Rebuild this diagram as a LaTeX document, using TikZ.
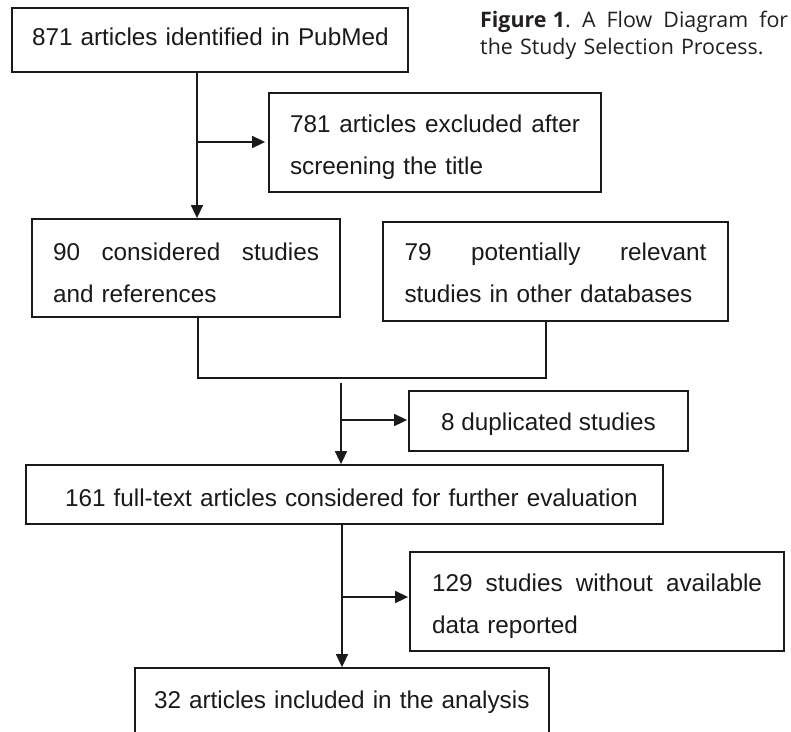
\documentclass[tikz,border=0pt]{standalone}
\usepackage{fontspec}
\setmainfont{Liberation Sans}
\newfontfamily\capfont{Open Sans}
\usetikzlibrary{arrows.meta}
\definecolor{ink}{HTML}{1A1A1A}
\definecolor{capink}{HTML}{231F20}
\newcommand\tsH[1]{\rule{0pt}{#1pt}}
\newcommand\tsD[1]{\rule[-#1pt]{0pt}{#1pt}}
\tikzset{
  boxnode/.style={draw=ink, line width=1.8pt, inner sep=0pt, text=ink, align=left,
    font=\fontsize{24.3}{42}\selectfont},
  arr/.style={draw=ink, line width=1.6pt, -{Triangle[length=13pt,width=12pt]}},
  lnk/.style={draw=ink, line width=1.3pt},
}
\begin{document}
\begin{tikzpicture}[x=1pt, y=-1pt]
\useasboundingbox (0,0) rectangle (791,731);
\clip (0,0) rectangle (791,731);
\fill[white] (0,0) rectangle (791,731);
% boxes
\node[boxnode, minimum width=396pt, minimum height=64pt, text width=356pt] (b1) at (210,40)
  {\tsH{18}\makebox[356pt][l]{871 articles identified in PubMed}\tsD{6.6}};
\node[boxnode, minimum width=332pt, minimum height=99pt, text width=290pt] (b2) at (435,142.5)
  {\tsH{28.4}\makebox[290pt][l]{781\hfill articles\hfill excluded\hfill after}\\screening the title\tsD{6}};
\node[boxnode, minimum width=308pt, minimum height=98pt, text width=266pt] (b3) at (186,268)
  {\tsH{33.4}\makebox[266pt][l]{90\hfill considered\hfill studies}\\and references\tsD{6}};
\node[boxnode, minimum width=345pt, minimum height=99pt, text width=302pt] (b4) at (555.5,271.5)
  {\tsH{26.4}\makebox[302pt][l]{79\hfill potentially\hfill relevant}\\studies in other databases\tsD{6}};
\node[boxnode, minimum width=279pt, minimum height=60pt, align=center] (b5) at (548.5,421)
  {\tsH{25.4}8 duplicated studies\tsD{6}};
\node[boxnode, minimum width=637pt, minimum height=59pt, text width=559pt] (b6) at (344.5,494.5)
  {\tsH{30.4}\makebox[559pt][l]{161 full-text articles considered for further evaluation}\tsD{6}};
\node[boxnode, minimum width=374pt, minimum height=99pt, text width=330pt] (b7) at (597,601.5)
  {\tsH{28.4}\makebox[330pt][l]{129\hfill studies\hfill without\hfill available}\\data reported\tsD{6}};
\node[boxnode, minimum width=414pt, minimum height=68pt, text width=376pt] (b8) at (342,702)
  {\tsH{19.4}\makebox[376pt][l]{32 articles included in the analysis}\tsD{6}};
% caption
\node[anchor=north west, inner sep=0pt, text width=308pt, align=left, text=capink,
  font=\capfont\fontsize{21.4}{26.5}\selectfont] (cap) at (480,11)
  {\makebox[308pt][l]{\textbf{Figure\hspace{0.3em}1}.\hfill A\hfill Flow\hfill Diagram\hfill for}\\the Study Selection Process.};
% connectors
\coordinate (j1) at (197,142);
\draw[arr] (b1.south -| j1) -- (b3.north -| j1);
\draw[arr, shorten >=3pt] (j1) -- (j1 -| b2.west);
\coordinate (m3) at (198,378);
\coordinate (m4) at (546,378);
\draw[lnk] (b3.south -| m3) -- (m3) -- (m4) -- (b4.south -| m4);
\coordinate (s2) at (341,383);
\coordinate (j2) at (341,420);
\draw[arr] (s2) -- (b6.north -| s2);
\draw[arr, shorten >=1pt] (j2) -- (j2 -| b5.west);
\coordinate (j3) at (342,597);
\draw[arr] (b6.south -| j3) -- (b8.north -| j3);
\draw[arr, shorten >=1pt] (j3) -- (j3 -| b7.west);
\end{tikzpicture}
\end{document}
